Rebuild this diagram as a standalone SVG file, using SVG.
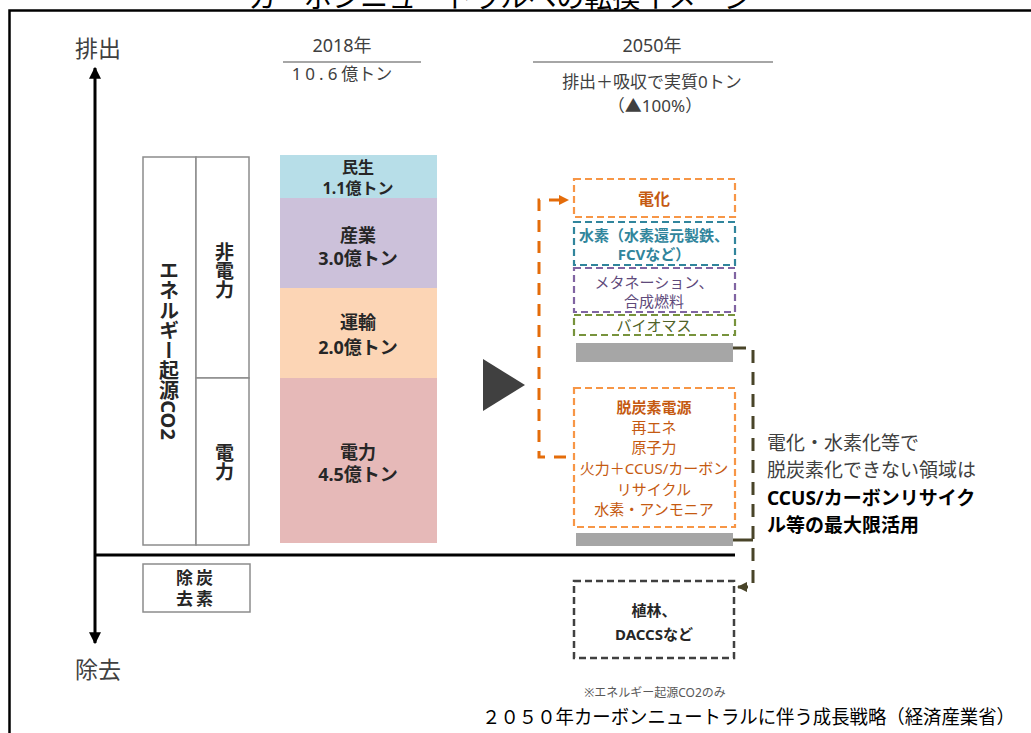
<svg xmlns="http://www.w3.org/2000/svg" width="1031" height="733" viewBox="0 0 1031 733">
<style>
text{font-family:"Noto Sans","Noto Sans CJK JP",sans-serif;}
.hd{font-size:17px;fill:#404040;text-anchor:middle;}
.bar{font-size:18px;font-weight:bold;fill:#262626;text-anchor:middle;}
.vt{font-size:19px;font-weight:bold;fill:#262626;text-anchor:middle;writing-mode:vertical-rl;text-orientation:mixed;}
.lbl{font-size:17px;font-weight:bold;fill:#262626;text-anchor:middle;}
.bx{font-size:15px;text-anchor:middle;}
.or{fill:#c55a11;}
.dash{fill:none;stroke-width:2.2;stroke-dasharray:7 4;}
.ax{stroke:#000;stroke-width:3;fill:none;}
.gray{fill:#a6a6a6;}
</style>
<defs>
<marker id="ah" viewBox="0 0 10 10" refX="9" refY="5" markerWidth="4" markerHeight="4" orient="auto-start-reverse"><path d="M0,0 L10,5 L0,10 z" fill="#000"/></marker>
<marker id="ao" viewBox="0 0 10 10" refX="9" refY="5" markerWidth="3.5" markerHeight="3.5" orient="auto"><path d="M0,0 L10,5 L0,10 z" fill="#e46c0a"/></marker>
<marker id="ad" viewBox="0 0 10 10" refX="9" refY="5" markerWidth="3.5" markerHeight="3.5" orient="auto"><path d="M0,0 L10,5 L0,10 z" fill="#494429"/></marker>
</defs>
<rect width="1031" height="733" fill="#fff"/>
<text x="500" y="8" style="font-size:28px;text-anchor:middle;fill:#000">カーボンニュートラルへの転換イメージ</text>
<rect x="9.5" y="10.5" width="1040" height="740" fill="none" stroke="#000" stroke-width="2.5"/>

<g id="axis-labels">
<text x="98" y="57" style="font-size:23px;fill:#404040;text-anchor:middle">排出</text>
<text x="98" y="678" style="font-size:23px;fill:#404040;text-anchor:middle">除去</text>
</g>

<g id="headers">
<text class="hd" x="342" y="52" style="font-size:18px">2018年</text>
<line x1="283" y1="62" x2="421" y2="62" stroke="#a6a6a6" stroke-width="2"/>
<text class="hd" x="342" y="80" style="font-size:17px"><tspan letter-spacing="4">10.6</tspan>億トン</text>
<text class="hd" x="652" y="52" style="font-size:18px">2050年</text>
<line x1="533" y1="62" x2="773" y2="62" stroke="#a6a6a6" stroke-width="2"/>
<text class="hd" x="652" y="88">排出＋吸収で実質0トン</text>
<text class="hd" x="655" y="112">（▲100%）</text>
</g>

<g id="energy-co2">
<rect x="143" y="157" width="53" height="388" fill="#fff" stroke="#8c8c8c" stroke-width="1.5"/>
<text class="vt" x="168" y="350" style="font-size:20px">エネルギー起源CO2</text>
</g>
<g id="non-power">
<rect x="196" y="157" width="53" height="221" fill="#fff" stroke="#8c8c8c" stroke-width="1.5"/>
<text class="vt" x="223" y="271">非電力</text>
</g>
<g id="power">
<rect x="196" y="378" width="53" height="167" fill="#fff" stroke="#8c8c8c" stroke-width="1.5"/>
<text class="vt" x="223" y="462">電力</text>
</g>
<g id="removal">
<rect x="143" y="564" width="107" height="48" fill="#fff" stroke="#8c8c8c" stroke-width="1.5"/>
<text class="lbl" x="196" y="584" style="letter-spacing:3px">除炭</text>
<text class="lbl" x="196" y="605" style="letter-spacing:3px">去素</text>
</g>

<g id="bar-minsei">
<rect x="280" y="155" width="157" height="43" fill="#b7dee8"/>
<text class="bar" x="358" y="173" style="font-size:16px">民生</text>
<text class="bar" x="358" y="194" style="font-size:16px">1.1億トン</text>
</g>
<g id="bar-sangyo">
<rect x="280" y="198" width="157" height="90" fill="#ccc1da"/>
<text class="bar" x="358" y="242">産業</text>
<text class="bar" x="358" y="265">3.0億トン</text>
</g>
<g id="bar-yuso">
<rect x="280" y="288" width="157" height="90" fill="#fcd5b5"/>
<text class="bar" x="358" y="329">運輸</text>
<text class="bar" x="358" y="354">2.0億トン</text>
</g>
<g id="bar-power">
<rect x="280" y="378" width="157" height="165" fill="#e6b9b8"/>
<text class="bar" x="358" y="459">電力</text>
<text class="bar" x="358" y="481">4.5億トン</text>
</g>

<g id="big-arrow">
<polygon points="483,359 525,385 483,411" fill="#404040"/>
</g>

<g id="connectors">
<line class="ax" x1="95" y1="643" x2="95" y2="68" marker-start="url(#ah)" marker-end="url(#ah)"/>
<line x1="95" y1="555" x2="735" y2="555" stroke="#000" stroke-width="3"/>
<path d="M566,457 H539 V200 H568" fill="none" stroke="#e46c0a" stroke-width="3" stroke-dasharray="12 9" marker-end="url(#ao)"/>
<path d="M733,348 H753 V587 H738" fill="none" stroke="#494429" stroke-width="3" stroke-dasharray="13 9" marker-end="url(#ad)"/>
<line x1="733" y1="540" x2="753" y2="540" stroke="#494429" stroke-width="3"/>
</g>

<g id="box-denka">
<rect class="dash" x="574" y="179" width="161" height="38" stroke="#f79646"/>
<text class="bx or" x="654" y="205" style="font-weight:bold;font-size:16px">電化</text>
</g>
<g id="box-suiso">
<rect class="dash" x="574" y="222" width="161" height="43" stroke="#31859c"/>
<text class="bx" x="654" y="241" style="font-weight:bold;fill:#31859c">水素（水素還元製鉄、</text>
<text class="bx" x="654" y="260" style="font-weight:bold;fill:#31859c">FCVなど）</text>
</g>
<g id="box-methanation">
<rect class="dash" x="574" y="268" width="161" height="44" stroke="#8064a2"/>
<text class="bx" x="654" y="288" style="fill:#604a7b">メタネーション、</text>
<text class="bx" x="654" y="307" style="fill:#604a7b">合成燃料</text>
</g>
<g id="box-biomass">
<rect class="dash" x="574" y="315" width="161" height="20" stroke="#77933c"/>
<text class="bx" x="654" y="331" style="fill:#4f6228">バイオマス</text>
</g>
<g id="gray-1"><rect class="gray" x="576" y="343" width="157" height="19"/></g>
<g id="box-datsutanso">
<rect class="dash" x="574" y="388" width="161" height="139" stroke="#f79646"/>
<text class="bx or" x="654" y="413" style="font-weight:bold">脱炭素電源</text>
<text class="bx or" x="654" y="433">再エネ</text>
<text class="bx or" x="654" y="453">原子力</text>
<text class="bx or" x="654" y="474">火力＋CCUS/カーボン</text>
<text class="bx or" x="654" y="495">リサイクル</text>
<text class="bx or" x="654" y="515">水素・アンモニア</text>
</g>
<g id="gray-2"><rect class="gray" x="576" y="533" width="157" height="13"/></g>
<g id="box-shokurin">
<rect class="dash" x="574" y="581" width="160" height="77" stroke="#404040" style="stroke-width:2.5"/>
<text class="bx" x="654" y="616" style="font-weight:bold;fill:#262626">植林、</text>
<text class="bx" x="654" y="640" style="font-weight:bold;fill:#262626">DACCSなど</text>
</g>

<g id="note">
<text x="767" y="450" style="font-size:19px;fill:#404040">電化・水素化等で</text>
<text x="767" y="477" style="font-size:19px;fill:#404040">脱炭素化できない領域は</text>
<text x="767" y="505" style="font-size:19px;font-weight:bold;fill:#000">CCUS/カーボンリサイク</text>
<text x="767" y="532" style="font-size:19px;font-weight:bold;fill:#000">ル等の最大限活用</text>
</g>

<g id="footer">
<text x="655" y="697" style="font-size:12px;fill:#595959;text-anchor:middle">※エネルギー起源CO2のみ</text>
<text x="482" y="724" style="font-size:19px;fill:#000" textLength="533" lengthAdjust="spacingAndGlyphs">２０５０年カーボンニュートラルに伴う成長戦略（経済産業省）</text>
</g>
</svg>
